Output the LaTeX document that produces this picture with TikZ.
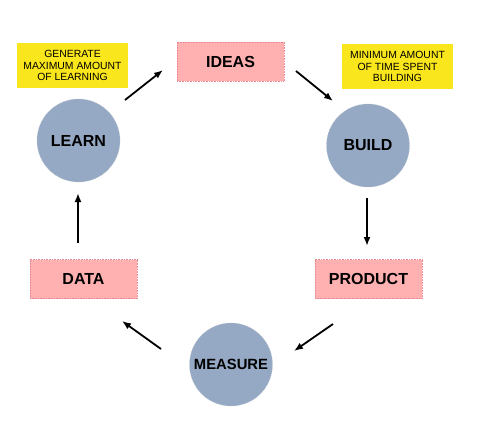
\documentclass[tikz,border=0pt]{standalone}
\usepackage{fontspec}
\setmainfont{Liberation Sans}
\usetikzlibrary{arrows.meta}
\definecolor{notey}{HTML}{F9E61C}
\definecolor{boxpink}{HTML}{FFB0B0}
\definecolor{boxedge}{HTML}{E58A92}
\definecolor{circblue}{HTML}{95A9C4}
\definecolor{circedge}{HTML}{B5BFCC}
\tikzset{
  notebox/.style={fill=notey, draw=none, align=center, font=\fontsize{10.4}{11.8}\selectfont, inner sep=0pt},
  pinkbox/.style={fill=boxpink, draw=boxedge, densely dotted, line width=0.6pt, font=\fontsize{16}{18}\bfseries\selectfont, minimum width=107pt, minimum height=39pt, inner sep=0pt},
  stagecirc/.style={circle, fill=circblue, draw=circedge, densely dotted, line width=0.6pt, font=\fontsize{16}{18}\bfseries\selectfont, minimum size=83pt, inner sep=0pt},
  flow/.style={-{Latex[length=9pt,width=7pt]}, line width=1.8pt, black}
}
\begin{document}
\begin{tikzpicture}[x=1pt,y=-1pt]
\useasboundingbox (0,0) rectangle (477,437);
\node[notebox, minimum width=111pt, minimum height=45pt] (n1) at (72.5,65.5) {GENERATE\\MAXIMUM AMOUNT\\OF LEARNING};
\node[notebox, minimum width=111pt, minimum height=45pt] (n2) at (397.5,66.5) {MINIMUM AMOUNT\\OF TIME SPENT\\BUILDING};
\node[pinkbox] (ideas) at (230.5,61.5) {IDEAS};
\node[pinkbox] (product) at (368.5,279) {PRODUCT};
\node[pinkbox] (data) at (83.5,279) {DATA};
\node[stagecirc] (learn) at (78.5,140.5) {LEARN};
\node[stagecirc] (build) at (368,145.5) {BUILD};
\node[stagecirc, font=\fontsize{14.8}{17}\bfseries\selectfont] (measure) at (231,364.5) {MEASURE};
\coordinate (a1s) at (125,100); \coordinate (a1e) at (163,70);
\coordinate (a2s) at (296,71);  \coordinate (a2e) at (333,101);
\coordinate (a3s) at (367,198); \coordinate (a3e) at (367,246);
\coordinate (a4s) at (333,324); \coordinate (a4e) at (294,351);
\coordinate (a5s) at (161,349); \coordinate (a5e) at (122,321);
\coordinate (a6s) at (78,243);  \coordinate (a6e) at (78,193);
\draw[flow] (a1s) -- (a1e);
\draw[flow] (a2s) -- (a2e);
\draw[flow] (a3s) -- (a3e);
\draw[flow] (a4s) -- (a4e);
\draw[flow] (a5s) -- (a5e);
\draw[flow] (a6s) -- (a6e);
\end{tikzpicture}
\end{document}
